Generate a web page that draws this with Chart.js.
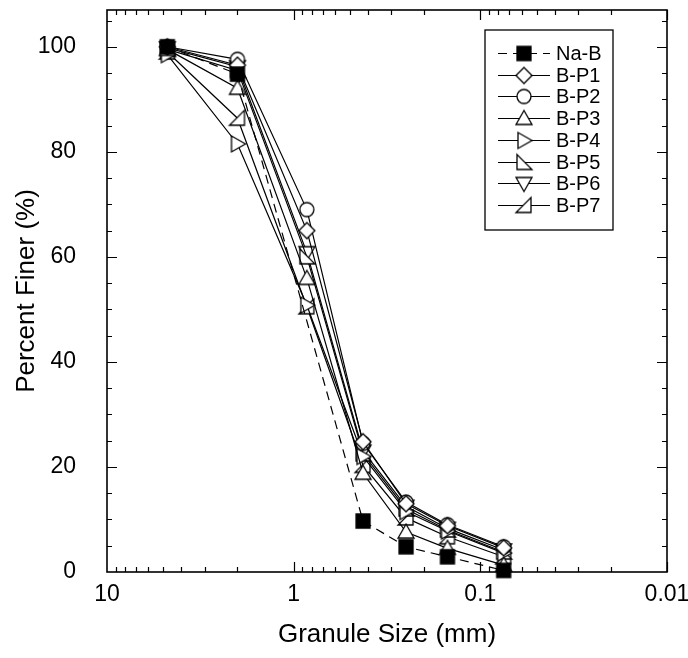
<!DOCTYPE html>
<html>
<head>
<meta charset="utf-8">
<title>Grain size distribution</title>
<script src="https://cdn.jsdelivr.net/npm/chart.js@4.4.1/dist/chart.umd.min.js"></script>
<style>
  html, body { margin: 0; padding: 0; background: #fff; }
  #wrap { width: 688px; height: 658px; }
</style>
</head>
<body>
<div id="wrap"><canvas id="psdChart"></canvas></div>
<script>
/* sieve openings (mm) and percent passing for each mix */
const sieveSizes = [4.75, 2.0, 0.85, 0.425, 0.25, 0.15, 0.075];
const naB  = [100,  94.8, null, 9.7,  4.8,  2.9, 0.3];
const bP1  = [100,  96.5, 65.0, 24.8, 13.0, 8.8, 4.6];
const bP2  = [100,  97.6, 69.0, 24.5, 13.3, 9.0, 4.8];
const bP3  = [99.5, 92.1, 55.9, 18.8, 7.6,  4.5, 1.3];
const bP4  = [98.5, 81.5, 50.8, 22.0, 11.5, 7.8, 3.6];
const bP5  = [99.5, 95.5, 60.0, 22.5, 12.0, 8.0, 3.8];
const bP6  = [99.8, 96.2, 60.8, 23.0, 12.5, 8.3, 4.2];
const bP7  = [99.0, 86.4, 50.5, 20.3, 10.3, 6.7, 2.9];

const seriesNames = ['Na-B', 'B-P1', 'B-P2', 'B-P3', 'B-P4', 'B-P5', 'B-P6', 'B-P7'];
const seriesData  = [naB, bP1, bP2, bP3, bP4, bP5, bP6, bP7];
const markerShapes = ['square', 'diamond', 'circle', 'up', 'right', 'lowerLeft', 'down', 'lowerRight'];

const xTickValues = [10, 1, 0.1, 0.01];
const yTickValues = [0, 20, 40, 60, 80, 100];

const FONT = "'Liberation Sans', Arial, sans-serif";

/* -------------------------------------------------------
   Open / filled marker glyphs drawn onto small canvases
------------------------------------------------------- */
function makeMarker(shape) {
  const s = 22, m = s / 2;
  const c = document.createElement('canvas');
  c.width = s; c.height = s;
  const g = c.getContext('2d');
  g.lineWidth = 1.3;
  g.strokeStyle = '#000';
  g.fillStyle = '#fff';
  g.beginPath();
  const poly = pts => {
    g.moveTo(m + pts[0][0], m + pts[0][1]);
    pts.slice(1).forEach(p => g.lineTo(m + p[0], m + p[1]));
    g.closePath();
  };
  switch (shape) {
    case 'square':     g.rect(m - 7, m - 7, 14, 14); g.fillStyle = '#000'; break;
    case 'diamond':    poly([[0, -8], [8, 0], [0, 8], [-8, 0]]); break;
    case 'circle':     g.arc(m, m, 7, 0, Math.PI * 2); break;
    case 'up':         poly([[0, -8], [8, 6], [-8, 6]]); break;
    case 'right':      poly([[8, 0], [-6, -8], [-6, 8]]); break;
    case 'down':       poly([[0, 8], [8, -6], [-8, -6]]); break;
    case 'lowerLeft':  poly([[-7, -8], [-7, 7], [8, 7]]); break;
    case 'lowerRight': poly([[7, -8], [7, 7], [-8, 7]]); break;
  }
  g.fill();
  g.stroke();
  return c;
}

const markers = markerShapes.map(makeMarker);

const datasets = seriesNames.map((name, i) => ({
  label: name,
  data: sieveSizes.map((d, j) => ({ x: d, y: seriesData[i][j] })),
  borderColor: '#000',
  borderWidth: 1.2,
  borderDash: i === 0 ? [9, 6] : [],
  pointStyle: markers[i],
  pointRadius: 8,
  spanGaps: true,
  tension: 0,
  fill: false,
  clip: false,
}));

/* -------------------------------------------------------
   Frame with inward ticks on all four sides
------------------------------------------------------- */
const frameTicks = {
  id: 'frameTicks',
  afterDatasetsDraw(chart) {
    const { ctx, chartArea: a, scales: { x, y } } = chart;
    ctx.save();
    ctx.strokeStyle = '#000';
    ctx.lineWidth = 1.2;
    ctx.beginPath();
    // log ticks along x
    [0.01, 0.1, 1].forEach(dec => {
      for (let k = 1; k <= 9; k++) {
        const px = Math.round(x.getPixelForValue(k * dec)) + 0.5;
        const len = k === 1 ? 10 : 5;
        ctx.moveTo(px, a.bottom); ctx.lineTo(px, a.bottom - len);
        ctx.moveTo(px, a.top);    ctx.lineTo(px, a.top + len);
      }
    });
    // linear ticks along y, every 5
    for (let v = 5; v <= 105; v += 5) {
      const py = Math.round(y.getPixelForValue(v)) + 0.5;
      const len = v % 20 === 0 ? 10 : 5;
      ctx.moveTo(a.left, py);  ctx.lineTo(a.left + len, py);
      ctx.moveTo(a.right, py); ctx.lineTo(a.right - len, py);
    }
    ctx.stroke();
    ctx.lineWidth = 1.6;
    ctx.strokeRect(a.left, a.top, a.right - a.left, a.bottom - a.top);
    ctx.restore();
  }
};

/* -------------------------------------------------------
   Boxed legend: line sample with marker, then the name
------------------------------------------------------- */
const legendBox = {
  id: 'legendBox',
  afterDraw(chart) {
    const ctx = chart.ctx;
    const bx = 485, by = 30, bw = 128, bh = 200;
    const rowTop = 53, rowStep = 21.7;
    ctx.save();
    ctx.fillStyle = '#fff';
    ctx.fillRect(bx, by, bw, bh);
    ctx.strokeStyle = '#000';
    ctx.lineWidth = 1.3;
    ctx.strokeRect(bx, by, bw, bh);
    ctx.font = '20px ' + FONT;
    ctx.textBaseline = 'middle';
    ctx.textAlign = 'left';
    chart.data.datasets.forEach((ds, i) => {
      const ry = Math.round(rowTop + i * rowStep) + 0.5;
      ctx.setLineDash(ds.borderDash);
      ctx.lineWidth = ds.borderWidth;
      ctx.beginPath();
      ctx.moveTo(498, ry); ctx.lineTo(550, ry);
      ctx.stroke();
      ctx.setLineDash([]);
      const mk = ds.pointStyle;
      ctx.drawImage(mk, 524 - mk.width / 2, ry - mk.height / 2);
      ctx.fillStyle = '#000';
      ctx.fillText(ds.label, 556, ry + 1);
    });
    ctx.restore();
  }
};

new Chart(document.getElementById('psdChart'), {
  type: 'line',
  data: { datasets },
  options: {
    responsive: true,
    maintainAspectRatio: false,
    animation: false,
    layout: { padding: { top: 10, right: 21, left: 0, bottom: 0 } },
    plugins: {
      legend: { display: false },
      tooltip: { enabled: false }
    },
    scales: {
      x: {
        type: 'logarithmic',
        reverse: true,
        min: 0.01,
        max: 10,
        grid: { display: false, drawTicks: false },
        border: { display: false },
        afterBuildTicks: s => { s.ticks = xTickValues.map(v => ({ value: v })); },
        afterFit: s => { s.height = 86; s.paddingLeft = 0; s.paddingRight = 0; },
        ticks: {
          autoSkip: false,
          maxRotation: 0,
          padding: 9,
          color: '#000',
          font: { family: FONT, size: 23 },
          callback: v => String(v)
        },
        title: {
          display: true,
          text: 'Granule Size (mm)',
          color: '#000',
          font: { family: FONT, size: 26 },
          padding: { top: 0, bottom: 8 }
        }
      },
      y: {
        type: 'linear',
        min: 0,
        max: 107,
        grid: { display: false, drawTicks: false },
        border: { display: false },
        afterBuildTicks: s => { s.ticks = yTickValues.map(v => ({ value: v })); },
        afterFit: s => { s.width = 107; s.paddingTop = 0; s.paddingBottom = 0; },
        ticks: {
          padding: 31,
          color: '#000',
          font: { family: FONT, size: 23 }
        },
        title: {
          display: true,
          text: 'Percent Finer (%)',
          color: '#000',
          font: { family: FONT, size: 26 },
          padding: { top: 11, bottom: 0 }
        }
      }
    }
  },
  plugins: [frameTicks, legendBox]
});
</script>
</body>
</html>
